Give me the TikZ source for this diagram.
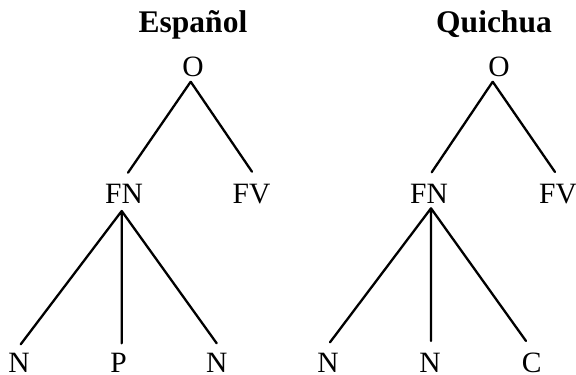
\documentclass[tikz,border=0pt]{standalone}
\usepackage{fontspec}
\setmainfont{Liberation Serif}
\begin{document}
\begin{tikzpicture}[x=1pt,y=-1pt,
  lbl/.style={inner sep=0pt,anchor=base,font=\fontsize{29.5}{30}\selectfont},
  ttl/.style={inner sep=0pt,anchor=base,font=\fontsize{31.5}{32}\selectfont\bfseries},
  edge/.style={line width=2.3pt,line cap=round}]
\useasboundingbox (0,0) rectangle (576,375);
\clip (0,0) rectangle (576,375);
% titles
\node[ttl] (tE) at (193,32.5) {Español};
\node[ttl] (tQ) at (494,32.5) {Quichua};
% Spanish tree
\node[lbl] (oE)  at (193,76) {O};
\node[lbl] (fnE) at (124,203) {FN};
\node[lbl] (fvE) at (251.5,203) {FV};
\node[lbl] (n1E) at (19,372.5) {N};
\node[lbl] (pE)  at (118.5,372.5) {P};
\node[lbl] (n2E) at (216.7,372.5) {N};
% Quichua tree
\node[lbl] (oQ)  at (499,76) {O};
\node[lbl] (fnQ) at (429,203) {FN};
\node[lbl] (fvQ) at (558,203) {FV};
\node[lbl] (n1Q) at (328,372.5) {N};
\node[lbl] (n2Q) at (430,372.5) {N};
\node[lbl] (cQ)  at (531.7,372.5) {C};
% attachment points of the branches
\path ([shift={(-2.3,5.7)}]oE.base)   coordinate (oE-b)
      ([shift={(4,-30.3)}]fnE.base)   coordinate (fnE-t)
      ([shift={(0.5,-31.3)}]fvE.base) coordinate (fvE-t)
      ([shift={(-2.3,8)}]fnE.base)    coordinate (fnE-b)
      ([shift={(1.7,-28.2)}]n1E.base) coordinate (n1E-t)
      ([shift={(3.2,-29.2)}]pE.base)  coordinate (pE-t)
      ([shift={(0,-29.2)}]n2E.base)   coordinate (n2E-t)
      ([shift={(-6.3,5.7)}]oQ.base)   coordinate (oQ-b)
      ([shift={(2.7,-30.7)}]fnQ.base) coordinate (fnQ-t)
      ([shift={(-3,-31)}]fvQ.base)    coordinate (fvQ-t)
      ([shift={(2,5.3)}]fnQ.base)     coordinate (fnQ-b)
      ([shift={(2,-30.2)}]n1Q.base)   coordinate (n1Q-t)
      ([shift={(1,-31.5)}]n2Q.base)   coordinate (n2Q-t)
      ([shift={(-5.7,-31.5)}]cQ.base) coordinate (cQ-t);
% branches
\draw[edge] (oE-b) -- (fnE-t) (oE-b) -- (fvE-t);
\draw[edge] (fnE-b) -- (n1E-t) (fnE-b) -- (pE-t) (fnE-b) -- (n2E-t);
\draw[edge] (oQ-b) -- (fnQ-t) (oQ-b) -- (fvQ-t);
\draw[edge] (fnQ-b) -- (n1Q-t) (fnQ-b) -- (n2Q-t) (fnQ-b) -- (cQ-t);
\end{tikzpicture}
\end{document}
